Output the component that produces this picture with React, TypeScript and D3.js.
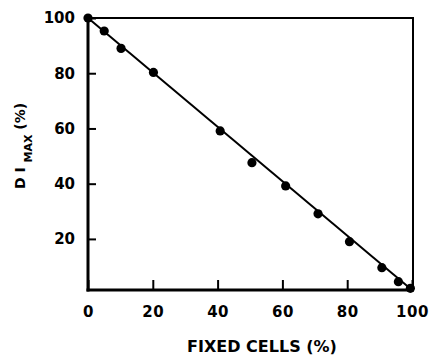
import React, { useEffect, useRef } from "react";
import * as d3 from "d3";

// Fixed-cell fraction (%) and the normalised maximum value D I_MAX (%)
const fixedCells = [0, 5, 10.2, 20.2, 40.8, 50.6, 61, 71, 80.7, 90.7, 95.8, 99.5];
const diMax = [100, 95.3, 89, 80.3, 59.1, 47.6, 39.2, 29.1, 19.0, 9.6, 4.5, 2.1];

// Straight fitted line through the series
const fitX = [0, 100];
const fitY = [100, 1.5];

const xTicks = [0, 20, 40, 60, 80, 100];
const yTicks = [20, 40, 60, 80, 100];
const yFloor = 1.5;

const W = 431;
const H = 357;
const FONT = "'DejaVu Sans', sans-serif";

export default function App() {
  const ref = useRef<SVGSVGElement>(null);

  useEffect(() => {
    const svg = d3.select(ref.current);
    svg.selectAll("*").remove();

    const left = 88, right = 412, top = 18, bottom = 290;
    const x = d3.scaleLinear().domain([0, 100]).range([left, right]);
    const y = d3.scaleLinear().domain([yFloor, 100]).range([bottom, top]);

    svg.append("rect").attr("width", W).attr("height", H).attr("fill", "#fff");

    // Frame
    const frame = svg.append("g").attr("stroke", "#000").attr("fill", "none");
    frame.append("line").attr("x1", left).attr("x2", right + 2).attr("y1", top).attr("y2", top).attr("stroke-width", 2);
    frame.append("line").attr("x1", right + 1).attr("x2", right + 1).attr("y1", top - 1).attr("y2", bottom + 1).attr("stroke-width", 2);
    frame.append("line").attr("x1", left).attr("x2", left).attr("y1", top - 1).attr("y2", bottom + 1.5).attr("stroke-width", 3);
    frame.append("line").attr("x1", left - 1.5).attr("x2", right + 2).attr("y1", bottom).attr("y2", bottom).attr("stroke-width", 3);

    // Axes with inward ticks
    const yAxis = svg.append("g")
      .attr("transform", `translate(${left},0)`)
      .call(d3.axisLeft(y).tickValues(yTicks).tickSize(-8).tickPadding(13).tickFormat(d3.format("d")));
    const xAxis = svg.append("g")
      .attr("transform", `translate(0,${bottom})`)
      .call(d3.axisBottom(x).tickValues(xTicks).tickSize(-10).tickPadding(16).tickFormat(d3.format("d")));

    [yAxis, xAxis].forEach((g) => {
      g.select(".domain").remove();
      g.selectAll(".tick line").attr("stroke", "#000").attr("stroke-width", 2);
      g.selectAll(".tick text")
        .attr("fill", "#000")
        .style("font-family", FONT)
        .style("font-weight", "bold")
        .style("font-size", "15px");
    });
    xAxis.selectAll(".tick text").attr("letter-spacing", "0.5");

    // Fitted line
    const line = d3.line<number>().x((d) => x(d)).y((_, i) => y(fitY[i]));
    svg.append("path")
      .attr("d", line(fitX))
      .attr("fill", "none")
      .attr("stroke", "#000")
      .attr("stroke-width", 2);

    // Data points
    svg.append("g")
      .selectAll("circle")
      .data(fixedCells)
      .join("circle")
      .attr("cx", (d) => x(d))
      .attr("cy", (_, i) => y(diMax[i]))
      .attr("r", 4.6)
      .attr("fill", "#000");

    // X axis title
    svg.append("text")
      .attr("x", 262)
      .attr("y", 352)
      .attr("text-anchor", "middle")
      .attr("fill", "#000")
      .style("font-family", FONT)
      .style("font-weight", "bold")
      .style("font-size", "16px")
      .text("FIXED CELLS (%)");

    // Y axis title with subscript
    const yt = svg.append("text")
      .attr("transform", "translate(25,146) rotate(-90)")
      .attr("text-anchor", "middle")
      .attr("fill", "#000")
      .style("font-family", FONT)
      .style("font-weight", "bold")
      .style("font-size", "14px");
    yt.append("tspan").text("D I ");
    yt.append("tspan").attr("dy", 7).style("font-size", "11px").text("MAX");
    yt.append("tspan").attr("dy", -7).text(" (%)");
  }, []);

  return (
    <svg
      ref={ref}
      width={W}
      height={H}
      style={{ position: "absolute", left: 0, top: 0, display: "block" }}
    />
  );
}
